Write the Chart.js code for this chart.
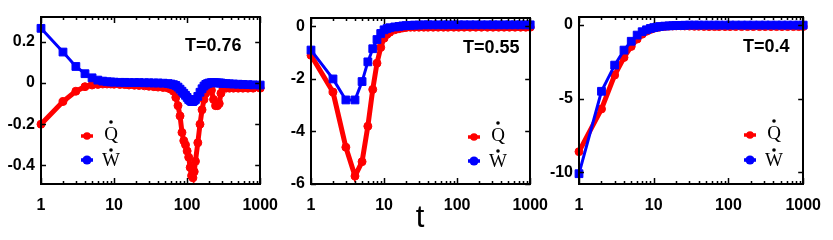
<!DOCTYPE html>
<html>
<head>
<meta charset="utf-8">
<script src="https://cdn.jsdelivr.net/npm/chart.js@4.4.0/dist/chart.umd.min.js"></script>
<style>
html,body{margin:0;padding:0;background:#fff;}
#wrap{position:relative;width:833px;height:240px;overflow:hidden;}
.pane{position:absolute;top:0;height:240px;}
</style>
</head>
<body>
<div id="wrap">
  <div class="pane" style="left:0px"><canvas id="c1" width="290" height="240"></canvas></div>
  <div class="pane" style="left:270px"><canvas id="c2" width="290" height="240"></canvas></div>
  <div class="pane" style="left:538px"><canvas id="c3" width="295" height="240"></canvas></div>
</div>
<script>
// time steps and values
const t1 = [1,2,3,4,5,6,7,8,9,10,12,14,16,19,22,26,30,35,40,47,55,60,65,70,75,80,85,90,95,100,
  105,110,115,120,125,130,140,150,160,170,180,190,200,215,230,245,260,275,290,310,340,380,430,500,580,680,800,1000];
const q1 = [-0.2,-0.09,-0.04,-0.018,-0.01,-0.007,-0.005,-0.005,-0.005,-0.006,-0.007,-0.008,-0.01,-0.011,-0.012,-0.014,-0.016,-0.018,-0.02,-0.022,-0.025,-0.03,-0.04,-0.07,-0.11,-0.16,-0.24,-0.28,-0.3,-0.33,
  -0.36,-0.41,-0.45,-0.46,-0.43,-0.38,-0.29,-0.2,-0.13,-0.08,-0.05,-0.035,-0.03,-0.035,-0.08,-0.11,-0.11,-0.1,-0.05,-0.026,-0.025,-0.025,-0.025,-0.025,-0.025,-0.025,-0.025,-0.025];
const w1 = [0.265,0.15,0.08,0.045,0.025,0.014,0.009,0.006,0.005,0.004,0.003,0.003,0.002,0.002,0.002,0.001,0.001,0,0,-0.001,-0.003,-0.005,-0.008,-0.012,-0.02,-0.03,-0.04,-0.05,-0.06,-0.07,
  -0.08,-0.085,-0.09,-0.09,-0.085,-0.08,-0.065,-0.045,-0.028,-0.015,-0.007,-0.003,0,0.002,0.002,0.001,0,0,0,-0.002,-0.003,-0.004,-0.005,-0.006,-0.007,-0.008,-0.009,-0.01];

const t2 = [1,2,3,4,5,6,7,8,9,10,11,12,14,16,18,20,23,26,30,35,40,47,55,65,75,90,105,125,150,180,215,260,310,370,440,520,620,740,870,1000];
const q2 = [-1.1,-2.5,-4.6,-5.7,-5.15,-3.8,-2.4,-1.4,-0.8,-0.45,-0.3,-0.22,-0.13,-0.09,-0.06,-0.04,-0.03,-0.03,-0.03,-0.03,
  -0.03,-0.03,-0.03,-0.03,-0.03,-0.03,-0.03,-0.03,-0.03,-0.03,-0.03,-0.03,-0.03,-0.03,-0.03,-0.03,-0.03,-0.03,-0.03,-0.03];
const w2 = [-0.9,-2.0,-2.8,-2.8,-2.1,-1.35,-0.85,-0.5,-0.27,-0.13,-0.08,-0.05,-0.02,0,0.02,0.03,0.04,0.05,0.05,0.06,
  0.06,0.06,0.06,0.06,0.06,0.06,0.06,0.06,0.06,0.06,0.06,0.06,0.06,0.06,0.06,0.06,0.06,0.06,0.06,0.06];

const t3 = t2;
const q3 = [-8.6,-5.7,-3.4,-2.2,-1.45,-0.95,-0.62,-0.42,-0.3,-0.22,-0.17,-0.13,-0.09,-0.07,-0.06,-0.05,-0.05,-0.06,-0.07,-0.08,
  -0.08,-0.09,-0.1,-0.1,-0.1,-0.1,-0.1,-0.1,-0.1,-0.1,-0.1,-0.1,-0.1,-0.1,-0.1,-0.1,-0.1,-0.1,-0.1,-0.1];
const w3 = [-10.1,-4.5,-2.72,-1.7,-1.1,-0.68,-0.45,-0.32,-0.23,-0.17,-0.13,-0.1,-0.07,-0.05,-0.04,-0.03,-0.02,-0.01,0,0,
  0,0,0,0,0,0,0,0,0,0,0,0,0,0,0,0,0,0,0,0];

const xTicks = [1,10,100,1000];
const yTicks1 = [-0.4,-0.2,0,0.2];
const yTicks2 = [-6,-4,-2,0];
const yTicks3 = [-10,-5,0];
const tempLabels = ['T=0.76','T=0.55','T=0.4'];
const seriesNames = ['Q','W'];

const SANS = "'Liberation Sans', Arial, sans-serif";
const SERIF = "'Liberation Serif', 'Times New Roman', serif";

const framePlugin = {
  id: 'frame',
  afterDatasetsDraw(chart, args, o) {
    const ctx = chart.ctx, a = chart.chartArea;
    const xs = chart.scales.x, ys = chart.scales.y;
    ctx.save();
    ctx.strokeStyle = '#000';
    ctx.lineWidth = 1.5;
    ctx.beginPath();
    // x ticks, major and minor, bottom and top, pointing inwards
    for (let d = 1; d <= 1000; d *= 10) {
      for (let k = 1; k <= 9; k++) {
        const v = d * k;
        if (v > 1000) break;
        const px = Math.round(xs.getPixelForValue(v)) + 0.5;
        const len = k === 1 ? 6 : 3;
        ctx.moveTo(px, a.bottom); ctx.lineTo(px, a.bottom - len);
        ctx.moveTo(px, a.top); ctx.lineTo(px, a.top + len);
      }
    }
    o.yTicks.forEach(v => {
      const py = Math.round(ys.getPixelForValue(v)) + 0.5;
      ctx.moveTo(a.left, py); ctx.lineTo(a.left + 5, py);
      ctx.moveTo(a.right, py); ctx.lineTo(a.right - 5, py);
    });
    ctx.stroke();
    ctx.lineWidth = 2;
    ctx.strokeRect(Math.round(a.left), Math.round(a.top), Math.round(a.right - a.left), Math.round(a.bottom - a.top));

    // temperature label
    ctx.fillStyle = '#000';
    ctx.font = 'bold 18px ' + SANS;
    ctx.textAlign = 'left';
    ctx.textBaseline = 'middle';
    ctx.fillText(o.temp, o.tx - o.off, o.ty);

    // legend
    const mx = o.mx - o.off;
    const items = [
      {color: '#ff0000', y: o.ry, r: 3.8, name: seriesNames[0], base: 3.5, dot: -14},
      {color: '#0000ff', y: o.by, r: 4.6, name: seriesNames[1], base: 6, dot: -10}
    ];
    items.forEach(it => {
      ctx.strokeStyle = it.color;
      ctx.fillStyle = it.color;
      ctx.lineWidth = 3.5;
      ctx.beginPath();
      ctx.moveTo(mx - 6, it.y); ctx.lineTo(mx + 6, it.y);
      ctx.stroke();
      ctx.beginPath();
      ctx.arc(mx, it.y, it.r, 0, Math.PI * 2);
      ctx.fill();
      ctx.fillStyle = '#000';
      ctx.font = '19px ' + SERIF;
      ctx.textAlign = 'center';
      ctx.textBaseline = 'alphabetic';
      ctx.fillText(it.name, mx + 24, it.y + it.base);
      ctx.beginPath();
      ctx.arc(mx + 24, it.y + it.dot, 1.8, 0, Math.PI * 2);
      ctx.fill();
    });

    if (o.axisTitle) {
      ctx.fillStyle = '#000';
      ctx.font = '31px ' + SANS;
      ctx.textAlign = 'center';
      ctx.textBaseline = 'alphabetic';
      ctx.fillText(o.axisTitle, 420 - o.off, 226.5);
    }
    ctx.restore();
  }
};

function makePanel(id, off, padTop, padRight, t, q, w, yMin, yMax, yTicks, info) {
  const ctx = document.getElementById(id).getContext('2d');
  return new Chart(ctx, {
    type: 'line',
    data: {
      labels: t,
      datasets: [
        {label: seriesNames[1], data: t.map((v, i) => ({x: v, y: w[i]})), borderColor: '#0000ff', backgroundColor: '#0000ff',
         borderWidth: 3, pointStyle: 'rect', pointRadius: 5.5, pointBorderWidth: 1, tension: 0, clip: false},
        {label: seriesNames[0], data: t.map((v, i) => ({x: v, y: q[i]})), borderColor: '#ff0000', backgroundColor: '#ff0000',
         borderWidth: 5, pointStyle: 'circle', pointRadius: 4, pointBorderWidth: 1, tension: 0, clip: false}
      ]
    },
    options: {
      responsive: false,
      animation: false,
      layout: {padding: {top: padTop, right: padRight, left: 0, bottom: 0}},
      plugins: {
        legend: {display: false},
        tooltip: {enabled: false},
        frame: Object.assign({yTicks: yTicks, off: off}, info)
      },
      scales: {
        x: {
          type: 'logarithmic', min: 1, max: 1000,
          grid: {display: false, drawTicks: false}, border: {display: false},
          afterBuildTicks: s => { s.ticks = xTicks.map(v => ({value: v, major: true})); },
          afterFit: s => { s.height = 56; },
          ticks: {color: '#000', font: {family: SANS, size: 16, weight: 'bold'}, padding: 12, autoSkip: false, maxRotation: 0,
                  callback: v => String(v)}
        },
        y: {
          type: 'linear', min: yMin, max: yMax,
          grid: {display: false, drawTicks: false}, border: {display: false},
          afterBuildTicks: s => { s.ticks = yTicks.map(v => ({value: v})); },
          afterFit: s => { s.width = 41; },
          ticks: {color: '#000', font: {family: SANS, size: 16, weight: 'bold'}, padding: 6,
                  callback: v => String(v)}
        }
      }
    },
    plugins: [framePlugin]
  });
}

makePanel('c1', 0, 17, 29, t1, q1, w1, -0.49, 0.32, yTicks1,
  {temp: tempLabels[0], tx: 185, ty: 46, mx: 87, ry: 136, by: 160});
makePanel('c2', 270, 18, 27, t2, q2, w2, -6, 0.32, yTicks2,
  {temp: tempLabels[1], tx: 463, ty: 48, mx: 474, ry: 137, by: 161, axisTitle: 't'});
makePanel('c3', 538, 17, 29, t3, q3, w3, -10.8, 0.55, yTicks3,
  {temp: tempLabels[2], tx: 743, ty: 47, mx: 750, ry: 135, by: 160});
</script>
</body>
</html>
